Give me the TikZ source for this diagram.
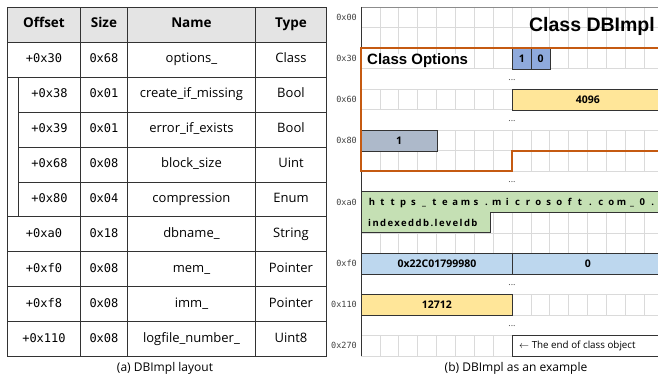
\documentclass[tikz,border=0pt]{standalone}
\usepackage{fontspec}
\setmainfont{Open Sans}
\setmonofont{DejaVu Sans Mono}
\newfontfamily\helvfont{Liberation Sans}
\usepackage{xcolor}
\usetikzlibrary{positioning}

\definecolor{optblue}{HTML}{8FAADC}
\definecolor{sizeyel}{HTML}{FFE699}
\definecolor{enumgray}{HTML}{ADB9CA}
\definecolor{strgreen}{HTML}{C5E0B4}
\definecolor{ptrblue}{HTML}{BDD7EE}
\definecolor{clsorange}{HTML}{C55A11}
\definecolor{gridgray}{HTML}{DADADA}
\definecolor{hdrgray}{HTML}{E4E4E4}
\definecolor{tblline}{HTML}{333333}

\begin{document}
\begin{tikzpicture}[x=1pt,y=-1pt,
  cell/.style={draw=tblline,line width=0.9pt,minimum height=34.9pt,inner sep=0pt,
               anchor=north west,text height=9pt,text depth=3pt,
               font=\fontsize{13}{15}\selectfont},
  hdr/.style={cell,fill=hdrgray,font=\bfseries\fontsize{13.5}{15}\selectfont},
  mcell/.style={cell,font=\ttfamily\fontsize{12}{14}\selectfont},
  blk/.style={draw=tblline,line width=0.8pt,minimum height=20.53pt,inner sep=0pt,
              anchor=north west,font=\bfseries\fontsize{10.5}{12}\selectfont},
  addr/.style={anchor=east,inner sep=0pt,font=\ttfamily\fontsize{8.5}{10}\selectfont,text=black!75},
  dotrow/.style={inner sep=0pt,font=\fontsize{9}{10}\selectfont,text=black!70},
  figcap/.style={font=\fontsize{12}{14}\selectfont},
  grid line/.style={gridgray,line width=0.6pt}
]
\useasboundingbox (0,0) rectangle (658,377);
\def\rh{20.53}
\def\cw{18.875}

% (a) layout table
\node[hdr,minimum width=73pt]  (hoff) at (7,7)   {Offset};
\node[hdr,minimum width=47pt]  (hsz)  at (80,7)  {Size};
\node[hdr,minimum width=128pt] (hnm)  at (127,7) {Name};
\node[hdr,minimum width=71pt]  (hty)  at (255,7) {Type};
\foreach \ind/\off/\sz/\nm/\ty [count=\r] in {
    0/+0x30/0x68/options\_/Class,
    11/+0x38/0x01/create\_if\_missing/Bool,
    11/+0x39/0x01/error\_if\_exists/Bool,
    11/+0x68/0x08/block\_size/Uint,
    11/+0x80/0x04/compression/Enum,
    0/+0xa0/0x18/dbname\_/String,
    0/+0xf0/0x08/mem\_/Pointer,
    0/+0xf8/0x08/imm\_/Pointer,
    0/+0x110/0x08/logfile\_number\_/Uint8}{
  \pgfmathsetmacro\yy{7+34.9*\r}
  \pgfmathsetmacro\ow{73-\ind}
  \node[mcell,minimum width=\ow pt] (off\r) at ({7+\ind},\yy) {\off};
  \node[mcell,minimum width=47pt]   (sz\r)  at (80,\yy)  {\sz};
  \node[cell,minimum width=128pt]   (nm\r)  at (127,\yy) {\nm};
  \node[cell,minimum width=71pt]    (ty\r)  at (255,\yy) {\ty};
}
\draw[tblline,line width=0.9pt] (off2.north west -| hoff.west) -- (off5.south west -| hoff.west);
\node[figcap] (capa) at (165,368) {(a) DBImpl layout};

% (b) byte grid
\begin{scope}
\clip (330,0) rectangle (658,377);
\foreach \k in {0,1,2,4,6,7,9,10,11,12,14,16}
  \foreach \c in {1,...,15}
    \draw[grid line] ({361+\c*\cw},{7+\k*\rh}) -- ++(0,\rh);
\node[fill=white,inner xsep=2pt,inner ysep=0pt,anchor=base west,
      font=\helvfont\bfseries\fontsize{15}{17}\selectfont] (optttl) at (365,65) {Class Options};
\foreach \k in {1,...,17}
  \draw[grid line] (361,{7+\k*\rh}) -- (663,{7+\k*\rh});
\draw[black!45,line width=0.8pt] (361,7) -- (663,7);

\node[blk,fill=optblue,minimum width=\cw pt]  (crt)  at (512,48.06)     {1};
\node[blk,fill=optblue,minimum width=\cw pt]  (err)  at (530.875,48.06) {0};
\node[blk,fill=sizeyel,minimum width=151pt]   (bsz)  at (512,89.12)     {4096};
\node[blk,fill=enumgray,minimum width=75.5pt] (cmp)  at (361,130.18)    {1};
\draw[fill=strgreen,draw=tblline,line width=0.8pt]
  (361,191.77) -- (663,191.77) -- (663,212.3) -- (490,212.3) -- (490,232.83) -- (361,232.83) -- cycle;
\foreach \ch [count=\i from 0] in {h,t,t,p,s,\_,t,e,a,m,s,.,m,i,c,r,o,s,o,f,t,.,c,o,m,\_,0,.}
  \node[inner sep=0pt,anchor=base,font=\bfseries\fontsize{9.5}{11}\selectfont] (url\i) at ({372+10.4*\i},205.5) {\ch};
\node[inner sep=0pt,anchor=base west,font=\bfseries\fontsize{9.5}{11}\selectfont] (dbdir) at (368,226)
  {\addfontfeature{LetterSpace=15}indexeddb.leveldb};
\node[blk,fill=ptrblue,minimum width=151pt]   (mem)  at (361,253.36)    {0x22C01799980};
\node[blk,fill=ptrblue,minimum width=151pt]   (imm)  at (512,253.36)    {0};
\node[blk,fill=sizeyel,minimum width=151pt]   (logn) at (361,294.42)    {12712};
\node[blk,fill=white,minimum width=151pt]     (endobj) at (512,335.48)  {};
\node[right=7pt of endobj.west,inner sep=0pt,font=\fontsize{9.8}{11}\selectfont] (endtxt)
  {$\leftarrow$ The end of class object};

\draw[tblline,line width=1pt] (361,7) -- (361,356.01);
\draw[clsorange,line width=1.8pt]
  (663,48.06) -- (361,48.06) -- (361,171.24) -- (512,171.24) -- (512,150.71) -- (663,150.71);
\end{scope}

\node[anchor=base,font=\helvfont\bfseries\fontsize{19.5}{22}\selectfont] (clsttl) at (592,32) {Class DBImpl};
\foreach \k/\a in {0/0x00,2/0x30,4/0x60,6/0x80,9/0xa0,12/0xf0,14/0x110,16/0x270}
  \node[addr] (adr\k) at (357,{7+(\k+0.5)*\rh}) {\a};
\foreach \k in {3,5,8,13,15}
  \node[dotrow] (gap\k) at (512,{8+(\k+0.5)*\rh}) {...};
\node[figcap] (capb) at (516,368) {(b) DBImpl as an example};
\end{tikzpicture}
\end{document}
